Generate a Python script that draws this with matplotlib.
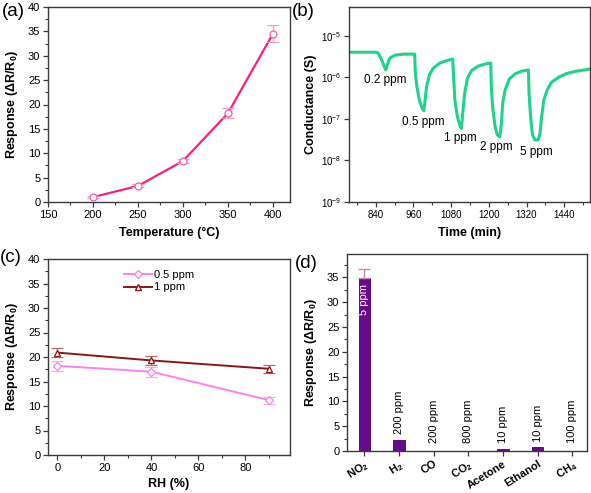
import matplotlib
matplotlib.use("Agg")
import matplotlib.pyplot as plt
from matplotlib.ticker import MultipleLocator, LogLocator, NullFormatter

plt.rcParams["font.family"] = ["Liberation Sans", "DejaVu Sans"]
plt.rcParams["mathtext.fontset"] = "custom"
plt.rcParams["mathtext.rm"] = "Liberation Sans"
plt.rcParams["mathtext.bf"] = "Liberation Sans:bold"
plt.rcParams["mathtext.it"] = "Liberation Sans:italic"

# (a) response vs temperature
temp_c = [200, 250, 300, 350, 400]
resp_temp = [1.0, 3.3, 8.4, 18.2, 34.5]
err_temp = [0.25, 0.3, 0.5, 1.05, 1.75]

# (b) conductance transient
time_min = [757, 841, 848, 859, 872, 877, 885, 901, 928, 964, 966, 971, 979,
            988, 993, 996, 1002, 1011, 1023, 1044, 1065, 1085, 1089, 1092,
            1100, 1109, 1113, 1117, 1123, 1132, 1145, 1166, 1187, 1206, 1208,
            1212, 1220, 1227, 1235, 1240, 1244, 1252, 1265, 1283, 1304, 1326,
            1328, 1333, 1339, 1347, 1357, 1363, 1368, 1375, 1386, 1399, 1422,
            1447, 1479, 1522]
cond_s = [4.0e-6, 4.0e-6, 3.8e-6, 2.6e-6, 1.5e-6, 2.0e-6, 2.9e-6, 3.4e-6,
          3.6e-6, 3.6e-6, 1.26e-6, 6.0e-7, 2.8e-7, 1.78e-7, 1.57e-7, 2.35e-7,
          6.0e-7, 1.15e-6, 1.65e-6, 2.2e-6, 2.5e-6, 2.75e-6, 7.2e-7, 2.8e-7,
          1.12e-7, 6.5e-8, 5.9e-8, 1.35e-7, 4.1e-7, 9.5e-7, 1.45e-6, 1.85e-6,
          2.08e-6, 2.2e-6, 6.0e-7, 1.96e-7, 6.5e-8, 4.1e-8, 3.7e-8, 7.7e-8,
          2.35e-7, 5.0e-7, 9.0e-7, 1.2e-6, 1.4e-6, 1.5e-6, 4.2e-7, 1.12e-7,
          4.1e-8, 3.1e-8, 3.1e-8, 4.5e-8, 1.12e-7, 2.8e-7, 5.0e-7, 7.5e-7,
          1.0e-6, 1.23e-6, 1.4e-6, 1.58e-6]
pulse_labels = ["0.2 ppm", "0.5 ppm", "1 ppm", "2 ppm", "5 ppm"]
pulse_t = [870, 992, 1111, 1225, 1352]
pulse_g = [8.7e-7, 8.5e-8, 3.5e-8, 2.1e-8, 1.6e-8]

# (c) response vs RH
rh = [0, 40, 90]
resp_05 = [18.2, 17.0, 11.2]
err_05 = [1.0, 1.0, 0.7]
resp_1 = [20.9, 19.3, 17.6]
err_1 = [1.0, 0.95, 0.85]

# (d) selectivity
gases = ["NO$_\\mathbf{2}$", "H$_\\mathbf{2}$", "CO", "CO$_\\mathbf{2}$",
         "Acetone", "Ethanol", "CH$_\\mathbf{4}$"]
gas_resp = [34.8, 2.3, 0.0, 0.0, 0.4, 0.75, 0.0]
gas_conc = ["5 ppm", "200 ppm", "200 ppm", "800 ppm", "10 ppm", "10 ppm",
            "100 ppm"]
no2_err_up = 1.8

W, H = 591, 493
fig = plt.figure(figsize=(W / 100, H / 100), dpi=100)


def box(l, t, r, b):
    return [l / W, 1 - b / H, (r - l) / W, (b - t) / H]


SPINE = "#3a3a3a"
YLAB = "Response (ΔR/R$_\\mathbf{0}$)"


def style(ax, size=8):
    for s in ax.spines.values():
        s.set_color(SPINE)
        s.set_linewidth(1.0)
    ax.tick_params(which="both", direction="out", top=False, right=False,
                   colors=SPINE, labelcolor="black", labelsize=size, pad=2)
    ax.tick_params(which="major", length=3.5, width=0.9)
    ax.tick_params(which="minor", length=2, width=0.8)


# ---- (a)
ax = fig.add_axes(box(48, 7, 290, 202))
ax.plot(temp_c, resp_temp, color="#f5217f", lw=1.6, zorder=2)
ax.errorbar(temp_c, resp_temp, yerr=err_temp, fmt="o", ms=5, mfc="white",
            mec="#f25fae", mew=0.9, ecolor="#f29ccb", elinewidth=1.0,
            capsize=4, capthick=1.0, zorder=3)
ax.set_xlim(150, 419)
ax.set_ylim(0, 40)
ax.xaxis.set_major_locator(MultipleLocator(50))
ax.xaxis.set_minor_locator(MultipleLocator(25))
ax.yaxis.set_major_locator(MultipleLocator(5))
ax.yaxis.set_minor_locator(MultipleLocator(2.5))
style(ax)
ax.set_xlabel("Temperature (°C)", fontsize=9, fontweight="bold", labelpad=5)
ax.set_ylabel(YLAB, fontsize=9, fontweight="bold", labelpad=6)

# ---- (b)
ax = fig.add_axes(box(349, 7, 590, 202))
ax.plot(time_min, cond_s, color="#1ed38a", lw=2.2, solid_joinstyle="round")
ax.set_yscale("log")
ax.set_xlim(755, 1522)
ax.set_ylim(1e-9, 4.9e-5)
ax.xaxis.set_major_locator(MultipleLocator(120))
ax.xaxis.set_minor_locator(MultipleLocator(60))
ax.yaxis.set_major_locator(LogLocator(base=10, numticks=10))
ax.yaxis.set_minor_locator(LogLocator(base=10, subs=(), numticks=10))
ax.yaxis.set_minor_formatter(NullFormatter())
style(ax, size=7)
for lab, t, g in zip(pulse_labels, pulse_t, pulse_g):
    ax.text(t, g, lab, fontsize=8.5, ha="center", va="center")
ax.set_xlabel("Time (min)", fontsize=9, fontweight="bold", labelpad=5)
ax.set_ylabel("Conductance (S)", fontsize=9, fontweight="bold", labelpad=3)

# ---- (c)
ax = fig.add_axes(box(48, 259, 290, 455))
ax.plot(rh, resp_05, color="#ff80f0", lw=1.4, zorder=2)
ax.errorbar(rh, resp_05, yerr=err_05, fmt="D", ms=4.5, mfc="white",
            mec="#ff80f0", mew=0.9, ecolor="#f7b0e8", elinewidth=1.0,
            capsize=4, capthick=1.0, zorder=3)
ax.plot(rh, resp_1, color="#8c1616", lw=1.4, zorder=2)
ax.errorbar(rh, resp_1, yerr=err_1, fmt="^", ms=5, mfc="white",
            mec="#8c1616", mew=0.9, ecolor="#b56a6a", elinewidth=1.0,
            capsize=4, capthick=1.0, zorder=3)
h1, = ax.plot([], [], color="#ff80f0", lw=1.4, marker="D", ms=4.5,
              mfc="white", mec="#ff80f0")
h2, = ax.plot([], [], color="#8c1616", lw=1.4, marker="^", ms=5,
              mfc="white", mec="#8c1616")
ax.legend([h1, h2], ["0.5 ppm", "1 ppm"], loc="upper left",
          bbox_to_anchor=(0.28, 0.985), frameon=False, fontsize=8,
          handlelength=2.6, handletextpad=0.15, labelspacing=0.25,
          borderpad=0.2)
ax.set_xlim(-4, 99)
ax.set_ylim(0, 40)
ax.xaxis.set_major_locator(MultipleLocator(20))
ax.xaxis.set_minor_locator(MultipleLocator(10))
ax.yaxis.set_major_locator(MultipleLocator(5))
ax.yaxis.set_minor_locator(MultipleLocator(2.5))
style(ax)
ax.set_xlabel("RH (%)", fontsize=9, fontweight="bold", labelpad=4)
ax.set_ylabel(YLAB, fontsize=9, fontweight="bold", labelpad=6)

# ---- (d)
ax = fig.add_axes(box(347, 254, 587, 451))
xs = list(range(len(gases)))
ax.bar(xs, gas_resp, width=0.33, color="#680a8c", edgecolor="#4a0066",
       linewidth=0.6, zorder=2)
ax.errorbar([xs[0]], [gas_resp[0]], yerr=[[0], [no2_err_up]], fmt="none",
            ecolor="#c48aa8", elinewidth=1.0, capsize=4, capthick=1.0,
            zorder=3)
for x, v, lab in zip(xs, gas_resp, gas_conc):
    if v > 10:
        ax.text(x, v * 0.88, lab, rotation=90, ha="center", va="center",
                color="white", fontsize=8)
    else:
        ax.text(x, max(v + 1.1, 1.7), lab, rotation=90, ha="center",
                va="bottom", color="black", fontsize=8)
ax.set_xlim(-0.5, 6.42)
ax.set_ylim(0, 39.7)
ax.set_xticks(xs)
ax.set_xticklabels(gases, rotation=32, ha="right", va="top",
                   rotation_mode="anchor", fontweight="bold", fontsize=8)
ax.yaxis.set_major_locator(MultipleLocator(5))
ax.yaxis.set_minor_locator(MultipleLocator(2.5))
style(ax)
ax.set_ylabel(YLAB, fontsize=9, fontweight="bold", labelpad=6)

# panel letters
for lab, x, y in [("(a)", 2, 11), ("(b)", 292, 11), ("(c)", 0, 258),
                  ("(d)", 295, 263)]:
    fig.text(x / W, 1 - y / H, lab, fontsize=13.5, ha="left", va="center")

fig.savefig("out.png", dpi=100)
